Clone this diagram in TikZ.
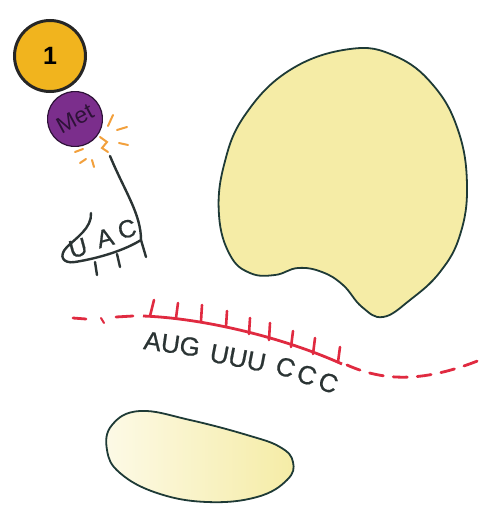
\documentclass[tikz,border=0pt]{standalone}
\usepackage{fontspec}
\setmainfont{Liberation Sans}
\newfontfamily\heavysans[FakeBold=0.7]{Liberation Sans}
\definecolor{outline}{HTML}{1E3A36}
\definecolor{ribofill}{HTML}{F5ECA6}
\definecolor{ribolight}{HTML}{FBF6D6}
\definecolor{gold}{HTML}{F1B41E}
\definecolor{metpurple}{HTML}{7B2E8C}
\definecolor{metink}{HTML}{2E1238}
\definecolor{mrnared}{HTML}{E02A40}
\definecolor{spark}{HTML}{F2A03C}
\definecolor{ink}{HTML}{2B3434}
\begin{document}
\begin{tikzpicture}[x=1pt,y=-1pt,
  subunit/.style={draw=outline,line width=1.8pt},
  rna/.style={draw=mrnared,line width=2.8pt},
  rnatick/.style={draw=mrnared,line width=2.6pt,line cap=round},
  trna/.style={draw=ink,line width=2.4pt,line cap=round},
  sparkline/.style={draw=spark,line width=2pt,line cap=round},
  codon/.style={inner sep=0pt,text=ink,font=\heavysans\fontsize{26}{26}\selectfont},
  anticodon/.style={inner sep=0pt,text=ink,font=\heavysans\fontsize{25}{25}\selectfont}]
\useasboundingbox (0,0) rectangle (481,511);

% large ribosomal subunit
\path[subunit,fill=ribofill] plot[smooth cycle,tension=0.7] coordinates {
  (350,49) (395,56) (433,85) (458,130) (467,185) (460,235) (440,272)
  (410,300) (383,317) (362,307) (343,285) (322,272) (298,268) (275,275)
  (250,273) (230,255) (219,215) (224,165) (245,115) (290,70)};

% small ribosomal subunit
\path[subunit,left color=ribolight!60!white,right color=ribofill] plot[smooth cycle,tension=0.7] coordinates {
  (140,411) (190,420) (247,435) (280,447) (293,462) (287,480)
  (257,497) (207,502) (157,493) (120,473) (107,450) (112,425)};

% messenger RNA: dashed ends and the solid reading stretch
\draw[rna,line cap=round] (73,318) -- (86,319);
\draw[rna,line width=2pt,line cap=round] (101,318) -- (104,323);
\draw[rna,line cap=round] (116,317) -- (133,316);
\draw[rna,line cap=round,dash pattern=on 14pt off 10pt]
  (347,365) .. controls (385,382) and (425,382) .. (480,360);
\coordinate (m0) at (143,316);
\coordinate (m1) at (342,364);
\draw[rna] (m0) .. controls (200,318) and (280,336) .. (m1);
\foreach \bx/\by/\tx/\ty in {150/316/154/300, 176/318/178/303, 201/321/202/305,
  226/327/227/311, 249/334/250/318, 269/340/270/323, 291/347/293/331,
  313/354/315/338, 338/362/340/347}
  \draw[rnatick] (\bx,\by) -- (\tx,\ty);

% codons, one node per triplet
\node[codon,rotate=-8]  (aug) at (172,344) {AUG};
\node[codon,rotate=-11] (uuu) at (238,358) {UUU};
\node[codon,rotate=-20] (ccc) at (307,375) {C\kern4ptC\kern4ptC};

% initiation factor
\node[circle,draw=black!85,line width=3pt,fill=gold,minimum size=71pt,inner sep=0pt,
  font=\bfseries\fontsize{25}{25}\selectfont] (f1) at (50,56) {1};

% transfer RNA carrying methionine
\node[circle,rotate=28,draw=metink,line width=1.2pt,fill=metpurple,minimum size=55pt,
  inner sep=0pt,text=metink,font=\fontsize{23}{23}\selectfont] (met) at (75,119) {Met};

\draw[sparkline] (100,137) -- (107,142) -- (102,148) -- (108,152);
\draw[sparkline] (113,115) -- (108,126);
\draw[sparkline] (117,130) -- (127,127);
\draw[sparkline] (119,143) -- (128,145);
\draw[sparkline] (75,152) -- (83,149);
\draw[sparkline] (80,163) -- (86,159);
\draw[sparkline] (92,160) -- (94,167);

\coordinate (s0) at (110,156);
\coordinate (s1) at (141,240);
\draw[trna] (s0) .. controls (125,192) and (141,214) .. (s1) -- (146,257);
\draw[trna] (91,213) .. controls (92,228) and (76,238) .. (67,247)
  .. controls (58,256) and (63,264) .. (75,262)
  .. controls (100,258) and (125,250) .. (s1);
\draw[trna] (95,262) -- (97,275);
\draw[trna] (117,254) -- (120,267);

\node[anticodon,rotate=15] (u1) at (78,248) {U};
\node[anticodon,rotate=15] (a1) at (105,238) {A};
\node[anticodon,rotate=15] (k1) at (127,229) {C};
\end{tikzpicture}
\end{document}
